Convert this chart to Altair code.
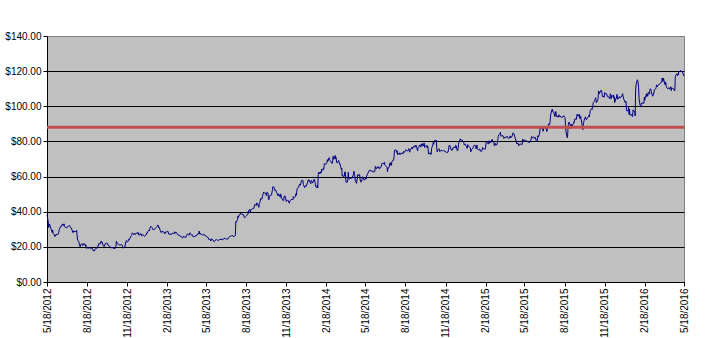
import altair as alt
import pandas as pd

# Daily closing prices, (month/day, price) per year
fb_2012 = [
    ("5/18", 38.23), ("5/21", 34.03), ("5/22", 31.00), ("5/23", 32.00), ("5/24", 33.03), ("5/25", 31.91),
    ("5/29", 28.84), ("5/30", 28.19), ("5/31", 29.60),
    ("6/1", 27.72), ("6/4", 26.90), ("6/5", 25.87), ("6/6", 26.81), ("6/7", 26.31), ("6/8", 27.10),
    ("6/11", 27.01), ("6/12", 27.40), ("6/13", 27.27), ("6/14", 28.29), ("6/15", 30.01), ("6/18", 31.41),
    ("6/19", 31.91), ("6/20", 31.60), ("6/21", 31.84), ("6/22", 33.05), ("6/25", 32.06), ("6/26", 33.10),
    ("6/27", 32.23), ("6/28", 31.36), ("6/29", 31.10),
    ("7/2", 30.77), ("7/3", 31.20), ("7/5", 31.47), ("7/6", 31.73), ("7/9", 32.17), ("7/10", 31.47),
    ("7/11", 30.97), ("7/12", 30.81), ("7/13", 30.72), ("7/16", 28.25), ("7/17", 28.09), ("7/18", 29.11),
    ("7/19", 28.76), ("7/20", 28.76), ("7/23", 28.75), ("7/24", 28.45), ("7/25", 29.34), ("7/26", 26.85),
    ("7/27", 23.71), ("7/30", 23.15), ("7/31", 21.71),
    ("8/1", 20.88), ("8/2", 20.04), ("8/3", 21.09), ("8/6", 21.92), ("8/7", 20.72), ("8/8", 20.72),
    ("8/9", 21.01), ("8/10", 21.81), ("8/13", 21.60), ("8/14", 20.38), ("8/15", 21.20), ("8/16", 19.87),
    ("8/17", 19.05), ("8/20", 20.01), ("8/21", 19.16), ("8/22", 19.44), ("8/23", 19.44), ("8/24", 19.41),
    ("8/27", 19.15), ("8/28", 19.34), ("8/29", 19.10), ("8/30", 19.09), ("8/31", 18.06),
    ("9/4", 17.73), ("9/5", 18.58), ("9/6", 18.96), ("9/7", 18.98), ("9/10", 19.43), ("9/11", 19.43),
    ("9/12", 20.93), ("9/13", 20.71), ("9/14", 22.00), ("9/17", 21.52), ("9/18", 21.87), ("9/19", 23.29),
    ("9/20", 22.59), ("9/21", 22.86), ("9/24", 20.79), ("9/25", 20.28), ("9/26", 20.62), ("9/27", 20.32),
    ("9/28", 21.66),
    ("10/1", 21.99), ("10/2", 22.27), ("10/3", 21.83), ("10/4", 21.95), ("10/5", 20.91), ("10/8", 20.40),
    ("10/9", 20.23), ("10/10", 19.64), ("10/11", 19.75), ("10/12", 19.52), ("10/15", 19.52), ("10/16", 19.48),
    ("10/17", 19.88), ("10/18", 18.98), ("10/19", 19.00), ("10/22", 19.32), ("10/23", 19.50), ("10/24", 23.23),
    ("10/25", 22.56), ("10/26", 21.94), ("10/31", 21.11),
    ("11/1", 21.21), ("11/2", 21.18), ("11/5", 21.25), ("11/6", 21.17), ("11/7", 20.47), ("11/8", 19.99),
    ("11/9", 19.21), ("11/12", 20.07), ("11/13", 19.86), ("11/14", 22.36), ("11/15", 22.17), ("11/16", 23.56),
    ("11/19", 22.92), ("11/20", 23.10), ("11/21", 24.32), ("11/23", 24.00), ("11/26", 25.94), ("11/27", 26.15),
    ("11/28", 26.36), ("11/29", 27.32), ("11/30", 28.00),
    ("12/3", 27.04), ("12/4", 27.46), ("12/5", 27.71), ("12/6", 26.97), ("12/7", 27.49), ("12/10", 27.84),
    ("12/11", 27.98), ("12/12", 27.58), ("12/13", 28.24), ("12/14", 26.81), ("12/17", 26.75), ("12/18", 27.71),
    ("12/19", 27.41), ("12/20", 27.36), ("12/21", 26.26), ("12/24", 26.93), ("12/26", 26.51), ("12/27", 26.05),
    ("12/28", 25.91), ("12/31", 26.62),
]

fb_2013 = [
    ("1/2", 28.00), ("1/3", 27.77), ("1/4", 28.76), ("1/7", 29.42), ("1/8", 29.06), ("1/9", 30.59),
    ("1/10", 31.30), ("1/11", 31.72), ("1/14", 30.95), ("1/15", 30.10), ("1/16", 29.85), ("1/17", 30.14),
    ("1/18", 29.66), ("1/22", 30.73), ("1/23", 30.82), ("1/24", 31.08), ("1/25", 31.54), ("1/28", 32.47),
    ("1/29", 30.79), ("1/30", 31.24), ("1/31", 30.98),
    ("2/1", 29.73), ("2/4", 28.11), ("2/5", 28.64), ("2/6", 29.05), ("2/7", 28.65), ("2/8", 28.55),
    ("2/11", 28.26), ("2/12", 27.37), ("2/13", 27.91), ("2/14", 28.50), ("2/15", 28.32), ("2/19", 28.93),
    ("2/20", 28.46), ("2/21", 27.28), ("2/22", 27.13), ("2/25", 27.27), ("2/26", 27.39), ("2/27", 26.87),
    ("2/28", 27.25),
    ("3/1", 27.78), ("3/4", 27.72), ("3/5", 27.52), ("3/6", 27.45), ("3/7", 28.58), ("3/8", 27.96),
    ("3/11", 28.14), ("3/12", 27.83), ("3/13", 27.08), ("3/14", 27.04), ("3/15", 26.65), ("3/18", 26.49),
    ("3/19", 26.55), ("3/20", 25.86), ("3/21", 25.74), ("3/22", 25.73), ("3/25", 25.13), ("3/26", 25.21),
    ("3/27", 26.09), ("3/28", 25.58),
    ("4/1", 25.53), ("4/2", 25.42), ("4/3", 26.25), ("4/4", 27.07), ("4/5", 27.39), ("4/8", 26.85),
    ("4/9", 26.59), ("4/10", 27.57), ("4/11", 28.02), ("4/12", 27.40), ("4/15", 26.52), ("4/16", 26.92),
    ("4/17", 26.63), ("4/18", 25.69), ("4/19", 25.73), ("4/22", 25.97), ("4/23", 25.98), ("4/24", 26.11),
    ("4/25", 26.14), ("4/26", 26.85), ("4/29", 26.98), ("4/30", 27.77),
    ("5/1", 27.43), ("5/2", 28.97), ("5/3", 27.31), ("5/6", 27.57), ("5/7", 26.89), ("5/8", 27.12),
    ("5/9", 27.04), ("5/10", 26.68), ("5/13", 26.82), ("5/14", 27.07), ("5/15", 26.60), ("5/16", 26.13),
    ("5/17", 26.25), ("5/20", 25.76), ("5/21", 25.66), ("5/22", 25.16), ("5/23", 25.06), ("5/24", 24.31),
    ("5/28", 24.10), ("5/29", 23.32), ("5/30", 24.55), ("5/31", 24.35),
    ("6/3", 23.85), ("6/4", 23.52), ("6/5", 22.90), ("6/6", 22.97), ("6/7", 23.29), ("6/10", 24.33),
    ("6/11", 24.03), ("6/12", 23.77), ("6/13", 23.73), ("6/14", 23.63), ("6/17", 24.02), ("6/18", 24.21),
    ("6/19", 24.31), ("6/20", 23.90), ("6/21", 24.53), ("6/24", 23.94), ("6/25", 24.25), ("6/26", 24.16),
    ("6/27", 24.66), ("6/28", 24.88),
    ("7/1", 24.81), ("7/2", 24.41), ("7/3", 24.52), ("7/5", 24.37), ("7/8", 24.71), ("7/9", 25.48),
    ("7/10", 25.80), ("7/11", 25.81), ("7/12", 25.91), ("7/15", 26.28), ("7/16", 26.32), ("7/17", 26.65),
    ("7/18", 26.18), ("7/19", 25.88), ("7/22", 26.05), ("7/23", 26.13), ("7/24", 26.51), ("7/25", 34.36),
    ("7/26", 34.01), ("7/29", 35.43), ("7/30", 37.63), ("7/31", 36.80),
    ("8/1", 37.49), ("8/2", 38.05), ("8/5", 39.19), ("8/6", 38.55), ("8/7", 38.87), ("8/8", 38.54),
    ("8/9", 38.50), ("8/12", 38.22), ("8/13", 37.02), ("8/14", 36.65), ("8/15", 36.56), ("8/16", 37.08),
    ("8/19", 37.81), ("8/20", 38.41), ("8/21", 38.32), ("8/22", 38.55), ("8/23", 40.55), ("8/26", 41.34),
    ("8/27", 39.64), ("8/28", 40.55), ("8/29", 41.28), ("8/30", 41.29),
    ("9/3", 41.87), ("9/4", 41.78), ("9/5", 42.66), ("9/6", 43.95), ("9/9", 44.04), ("9/10", 43.60),
    ("9/11", 45.04), ("9/12", 44.75), ("9/13", 44.31), ("9/16", 42.51), ("9/17", 45.07), ("9/18", 45.23),
    ("9/19", 45.98), ("9/20", 47.49), ("9/23", 47.19), ("9/24", 48.45), ("9/25", 49.46), ("9/26", 50.39),
    ("9/27", 51.24), ("9/30", 50.23),
    ("10/1", 50.42), ("10/2", 50.28), ("10/3", 49.18), ("10/4", 51.04), ("10/7", 50.52), ("10/8", 47.14),
    ("10/9", 46.77), ("10/10", 49.05), ("10/11", 49.11), ("10/14", 49.51), ("10/15", 49.50), ("10/16", 51.14),
    ("10/17", 52.21), ("10/18", 54.22), ("10/21", 53.85), ("10/22", 52.68), ("10/23", 51.90), ("10/24", 52.45),
    ("10/25", 51.95), ("10/28", 50.23), ("10/29", 49.40), ("10/30", 49.01), ("10/31", 50.21),
    ("11/1", 49.75), ("11/4", 48.22), ("11/5", 50.11), ("11/6", 49.12), ("11/7", 47.56), ("11/8", 47.53),
    ("11/11", 46.20), ("11/12", 46.61), ("11/13", 48.71), ("11/14", 48.99), ("11/15", 49.01), ("11/18", 45.83),
    ("11/19", 46.36), ("11/20", 46.43), ("11/21", 46.70), ("11/22", 46.23), ("11/25", 44.82), ("11/26", 45.89),
    ("11/27", 46.49), ("11/29", 47.01),
    ("12/2", 47.06), ("12/3", 46.73), ("12/4", 48.62), ("12/5", 48.34), ("12/6", 47.94), ("12/9", 48.84),
    ("12/10", 50.25), ("12/11", 49.38), ("12/12", 51.83), ("12/13", 53.32), ("12/16", 53.81), ("12/17", 54.86),
    ("12/18", 55.57), ("12/19", 55.05), ("12/20", 55.12), ("12/23", 57.77), ("12/24", 57.96), ("12/26", 57.73),
    ("12/27", 55.44), ("12/30", 53.71), ("12/31", 54.65),
]

fb_2014 = [
    ("1/2", 54.71), ("1/3", 54.56), ("1/6", 57.20), ("1/7", 57.92), ("1/8", 58.23), ("1/9", 57.22),
    ("1/10", 57.94), ("1/13", 55.91), ("1/14", 57.74), ("1/15", 57.60), ("1/16", 57.19), ("1/17", 56.30),
    ("1/21", 58.51), ("1/22", 57.51), ("1/23", 56.63), ("1/24", 54.45), ("1/27", 53.55), ("1/28", 55.14),
    ("1/29", 53.53), ("1/30", 61.08), ("1/31", 62.57),
    ("2/3", 61.48), ("2/4", 62.75), ("2/5", 62.19), ("2/6", 62.16), ("2/7", 64.32), ("2/10", 63.55),
    ("2/11", 64.85), ("2/12", 64.45), ("2/13", 67.33), ("2/14", 67.09), ("2/18", 67.30), ("2/19", 68.06),
    ("2/20", 69.63), ("2/21", 68.59), ("2/24", 70.78), ("2/25", 69.85), ("2/26", 69.26), ("2/27", 68.94),
    ("2/28", 68.46),
    ("3/3", 67.41), ("3/4", 68.80), ("3/5", 71.57), ("3/6", 70.84), ("3/7", 69.80), ("3/10", 72.03),
    ("3/11", 70.10), ("3/12", 70.88), ("3/13", 68.83), ("3/14", 67.72), ("3/17", 68.74), ("3/18", 69.19),
    ("3/19", 68.24), ("3/20", 66.97), ("3/21", 67.24), ("3/24", 64.10), ("3/25", 64.89), ("3/26", 60.39),
    ("3/27", 60.97), ("3/28", 60.01), ("3/31", 60.24),
    ("4/1", 62.62), ("4/2", 62.72), ("4/3", 59.49), ("4/4", 56.75), ("4/7", 56.95), ("4/8", 58.19),
    ("4/9", 62.41), ("4/10", 59.16), ("4/11", 58.53), ("4/14", 58.89), ("4/15", 59.09), ("4/16", 59.72),
    ("4/17", 58.94), ("4/21", 61.24), ("4/22", 63.03), ("4/23", 61.36), ("4/24", 60.87), ("4/25", 57.71),
    ("4/28", 56.14), ("4/29", 58.15), ("4/30", 59.78),
    ("5/1", 61.15), ("5/2", 60.46), ("5/5", 61.22), ("5/6", 58.53), ("5/7", 57.39), ("5/8", 56.76),
    ("5/9", 57.24), ("5/12", 59.83), ("5/13", 59.83), ("5/14", 59.23), ("5/15", 57.92), ("5/16", 58.02),
    ("5/19", 59.21), ("5/20", 58.56), ("5/21", 60.49), ("5/22", 60.52), ("5/23", 61.35), ("5/27", 63.48),
    ("5/28", 63.51), ("5/29", 63.83), ("5/30", 63.30),
    ("6/2", 63.08), ("6/3", 62.87), ("6/4", 63.34), ("6/5", 62.88), ("6/6", 62.50), ("6/9", 62.88),
    ("6/10", 65.77), ("6/11", 65.78), ("6/12", 64.29), ("6/13", 64.50), ("6/16", 65.60), ("6/17", 65.10),
    ("6/18", 65.60), ("6/19", 64.34), ("6/20", 64.50), ("6/23", 65.60), ("6/24", 65.72), ("6/25", 67.44),
    ("6/26", 67.58), ("6/27", 67.60), ("6/30", 67.29),
    ("7/1", 68.06), ("7/2", 66.45), ("7/3", 66.29), ("7/7", 65.29), ("7/8", 62.76), ("7/9", 64.97),
    ("7/10", 64.87), ("7/11", 64.97), ("7/14", 67.90), ("7/15", 66.47), ("7/16", 67.66), ("7/17", 66.41),
    ("7/18", 68.42), ("7/21", 69.40), ("7/22", 69.27), ("7/23", 71.29), ("7/24", 74.98), ("7/25", 75.19),
    ("7/28", 74.92), ("7/29", 73.71), ("7/30", 74.68), ("7/31", 72.65),
    ("8/1", 72.36), ("8/4", 73.51), ("8/5", 72.69), ("8/6", 72.47), ("8/7", 73.17), ("8/8", 73.06),
    ("8/11", 73.44), ("8/12", 72.83), ("8/13", 73.77), ("8/14", 74.30), ("8/15", 73.63), ("8/18", 74.59),
    ("8/19", 75.29), ("8/20", 74.81), ("8/21", 74.57), ("8/22", 74.57), ("8/25", 75.02), ("8/26", 75.96),
    ("8/27", 74.63), ("8/28", 73.86), ("8/29", 74.82),
    ("9/2", 76.68), ("9/3", 75.83), ("9/4", 75.95), ("9/5", 77.03), ("9/8", 77.43), ("9/9", 76.67),
    ("9/10", 77.43), ("9/11", 77.92), ("9/12", 77.48), ("9/15", 74.58), ("9/16", 76.08), ("9/17", 76.43),
    ("9/18", 77.00), ("9/19", 77.91), ("9/22", 76.80), ("9/23", 78.29), ("9/24", 78.54), ("9/25", 77.22),
    ("9/26", 78.79), ("9/29", 77.44), ("9/30", 79.04),
    ("10/1", 76.55), ("10/2", 77.08), ("10/3", 77.44), ("10/6", 77.56), ("10/7", 76.29), ("10/8", 77.52),
    ("10/9", 75.91), ("10/10", 72.91), ("10/13", 73.23), ("10/14", 73.59), ("10/15", 72.63), ("10/16", 72.64),
    ("10/17", 75.95), ("10/20", 78.07), ("10/21", 79.60), ("10/22", 78.37), ("10/23", 80.04), ("10/24", 80.67),
    ("10/27", 80.28), ("10/28", 80.77), ("10/29", 75.86), ("10/30", 74.11), ("10/31", 74.99),
    ("11/3", 75.88), ("11/4", 75.01), ("11/5", 74.14), ("11/6", 74.61), ("11/7", 74.88), ("11/10", 74.90),
    ("11/11", 74.61), ("11/12", 74.60), ("11/13", 74.72), ("11/14", 74.88), ("11/17", 74.24), ("11/18", 74.34),
    ("11/19", 74.01), ("11/20", 73.60), ("11/21", 73.75), ("11/24", 74.01), ("11/25", 75.63), ("11/26", 77.62),
    ("11/28", 77.70),
    ("12/1", 75.10), ("12/2", 75.46), ("12/3", 74.88), ("12/4", 75.24), ("12/5", 76.36), ("12/8", 76.52),
    ("12/9", 76.84), ("12/10", 76.18), ("12/11", 77.73), ("12/12", 77.83), ("12/15", 74.69), ("12/16", 74.69),
    ("12/17", 76.11), ("12/18", 78.40), ("12/19", 79.88), ("12/22", 81.45), ("12/23", 80.61), ("12/24", 80.77),
    ("12/26", 80.78), ("12/29", 80.02), ("12/30", 79.22), ("12/31", 78.02),
]

fb_2015 = [
    ("1/2", 78.45), ("1/5", 77.19), ("1/6", 76.15), ("1/7", 76.15), ("1/8", 78.18), ("1/9", 77.74),
    ("1/12", 76.72), ("1/13", 76.45), ("1/14", 76.28), ("1/15", 74.05), ("1/16", 75.18), ("1/20", 76.24),
    ("1/21", 76.74), ("1/22", 77.65), ("1/23", 77.83), ("1/26", 77.50), ("1/27", 75.78), ("1/28", 76.24),
    ("1/29", 78.00), ("1/30", 75.91),
    ("2/2", 74.99), ("2/3", 75.40), ("2/4", 75.63), ("2/5", 75.62), ("2/6", 74.47), ("2/9", 74.44),
    ("2/10", 75.19), ("2/11", 76.51), ("2/12", 76.23), ("2/13", 75.74), ("2/17", 75.60), ("2/18", 76.71),
    ("2/19", 79.42), ("2/20", 79.90), ("2/23", 78.84), ("2/24", 78.45), ("2/25", 79.56), ("2/26", 80.41),
    ("2/27", 78.97),
    ("3/2", 79.75), ("3/3", 79.60), ("3/4", 80.90), ("3/5", 81.21), ("3/6", 80.01), ("3/9", 79.44),
    ("3/10", 77.55), ("3/11", 77.57), ("3/12", 78.93), ("3/13", 78.05), ("3/16", 78.07), ("3/17", 79.36),
    ("3/18", 80.91), ("3/19", 82.75), ("3/20", 83.80), ("3/23", 84.43), ("3/24", 85.31), ("3/25", 82.92),
    ("3/26", 83.01), ("3/27", 83.30), ("3/30", 83.20), ("3/31", 82.22),
    ("4/1", 81.67), ("4/2", 82.32), ("4/6", 82.28), ("4/7", 82.65), ("4/8", 83.02), ("4/9", 82.42),
    ("4/10", 82.04), ("4/13", 81.72), ("4/14", 81.90), ("4/15", 83.10), ("4/16", 82.97), ("4/17", 82.04),
    ("4/20", 83.09), ("4/21", 84.26), ("4/22", 84.93), ("4/23", 84.63), ("4/24", 84.42), ("4/27", 81.91),
    ("4/28", 80.68), ("4/29", 80.68), ("4/30", 78.77),
    ("5/1", 78.77), ("5/4", 78.81), ("5/5", 77.46), ("5/6", 78.10), ("5/7", 78.43), ("5/8", 78.46),
    ("5/11", 78.53), ("5/12", 78.13), ("5/13", 78.44), ("5/14", 81.37), ("5/15", 80.41), ("5/18", 80.88),
    ("5/19", 80.47), ("5/20", 80.55), ("5/21", 80.53), ("5/22", 80.54), ("5/26", 79.70), ("5/27", 79.73),
    ("5/28", 79.49), ("5/29", 79.19),
    ("6/1", 80.59), ("6/2", 80.60), ("6/3", 82.44), ("6/4", 82.81), ("6/5", 82.05), ("6/8", 82.40),
    ("6/9", 82.30), ("6/10", 81.72), ("6/11", 82.35), ("6/12", 82.21), ("6/15", 79.76), ("6/16", 80.13),
    ("6/17", 81.38), ("6/18", 83.25), ("6/19", 82.51), ("6/22", 84.73), ("6/23", 88.00), ("6/24", 87.36),
    ("6/25", 87.21), ("6/26", 88.20), ("6/29", 86.62), ("6/30", 85.77),
    ("7/1", 87.88), ("7/2", 87.95), ("7/6", 87.55), ("7/7", 87.22), ("7/8", 85.65), ("7/9", 85.88),
    ("7/10", 87.95), ("7/13", 90.10), ("7/14", 89.68), ("7/15", 89.61), ("7/16", 91.32), ("7/17", 94.97),
    ("7/20", 97.91), ("7/21", 98.39), ("7/22", 96.95), ("7/23", 97.04), ("7/24", 96.95), ("7/27", 94.17),
    ("7/28", 95.29), ("7/29", 96.99), ("7/30", 95.21), ("7/31", 94.01),
    ("8/3", 94.14), ("8/4", 93.80), ("8/5", 95.21), ("8/6", 94.21), ("8/7", 94.30), ("8/10", 94.15),
    ("8/11", 93.62), ("8/12", 93.49), ("8/13", 94.14), ("8/14", 94.02), ("8/17", 94.62), ("8/18", 94.14),
    ("8/19", 93.49), ("8/20", 90.56), ("8/21", 86.06), ("8/24", 82.09), ("8/25", 83.00), ("8/26", 87.63),
    ("8/27", 89.73), ("8/28", 91.01), ("8/31", 89.43),
    ("9/1", 87.23), ("9/2", 89.89), ("9/3", 88.26), ("9/4", 88.26), ("9/8", 90.77), ("9/9", 90.54),
    ("9/10", 92.31), ("9/11", 92.90), ("9/14", 92.49), ("9/15", 94.40), ("9/16", 95.55), ("9/17", 95.18),
    ("9/18", 94.31), ("9/21", 95.55), ("9/22", 92.96), ("9/23", 93.97), ("9/24", 94.41), ("9/25", 92.77),
    ("9/28", 88.36), ("9/29", 86.67), ("9/30", 89.90),
    ("10/1", 90.95), ("10/2", 92.07), ("10/5", 94.01), ("10/6", 92.80), ("10/7", 92.40), ("10/8", 92.47),
    ("10/9", 93.24), ("10/12", 94.19), ("10/13", 94.99), ("10/14", 94.01), ("10/15", 95.97), ("10/16", 97.54),
    ("10/19", 98.68), ("10/20", 98.14), ("10/21", 98.76), ("10/22", 100.27), ("10/23", 102.19), ("10/26", 103.04),
    ("10/27", 103.70), ("10/28", 104.88), ("10/29", 103.96), ("10/30", 101.97),
    ("11/2", 103.31), ("11/3", 104.67), ("11/4", 108.76), ("11/5", 108.08), ("11/6", 107.10), ("11/9", 109.08),
    ("11/10", 108.92), ("11/11", 108.90), ("11/12", 107.32), ("11/13", 105.50), ("11/16", 105.49), ("11/17", 105.13),
    ("11/18", 107.78), ("11/19", 106.88), ("11/20", 107.32), ("11/23", 106.94), ("11/24", 105.74), ("11/25", 105.41),
    ("11/27", 105.45), ("11/30", 104.24),
    ("12/1", 107.12), ("12/2", 106.07), ("12/3", 104.38), ("12/4", 106.18), ("12/7", 105.61), ("12/8", 106.49),
    ("12/9", 104.60), ("12/10", 105.42), ("12/11", 102.12), ("12/14", 104.66), ("12/15", 104.55), ("12/16", 106.79),
    ("12/17", 106.22), ("12/18", 104.04), ("12/21", 104.77), ("12/22", 105.51), ("12/23", 104.63), ("12/24", 105.02),
    ("12/28", 105.93), ("12/29", 107.26), ("12/30", 106.22), ("12/31", 104.66),
]

fb_2016 = [
    ("1/4", 102.22), ("1/5", 102.73), ("1/6", 102.97), ("1/7", 97.92), ("1/8", 97.33), ("1/11", 97.51),
    ("1/12", 99.37), ("1/13", 95.44), ("1/14", 98.37), ("1/15", 94.97), ("1/19", 95.26), ("1/20", 94.35),
    ("1/21", 94.16), ("1/22", 97.94), ("1/25", 97.01), ("1/26", 97.34), ("1/27", 94.45), ("1/28", 109.11),
    ("1/29", 112.21),
    ("2/1", 115.09), ("2/2", 114.61), ("2/3", 112.69), ("2/4", 110.49), ("2/5", 104.07), ("2/8", 99.75),
    ("2/9", 99.54), ("2/10", 101.00), ("2/11", 101.91), ("2/12", 102.01), ("2/16", 101.61), ("2/17", 105.20),
    ("2/18", 103.47), ("2/19", 104.57), ("2/22", 107.16), ("2/23", 105.46), ("2/24", 106.88), ("2/25", 105.94),
    ("2/26", 107.92), ("2/29", 106.92),
    ("3/1", 109.82), ("3/2", 109.95), ("3/3", 109.58), ("3/4", 108.39), ("3/7", 105.73), ("3/8", 105.93),
    ("3/9", 107.51), ("3/10", 107.32), ("3/11", 109.41), ("3/14", 109.89), ("3/15", 110.67), ("3/16", 112.18),
    ("3/17", 111.02), ("3/18", 111.45), ("3/21", 112.42), ("3/22", 112.26), ("3/23", 112.54), ("3/24", 113.05),
    ("3/28", 113.69), ("3/29", 116.14), ("3/30", 114.70), ("3/31", 114.10),
    ("4/1", 116.06), ("4/4", 112.55), ("4/5", 112.22), ("4/6", 113.71), ("4/7", 111.91), ("4/8", 110.63),
    ("4/11", 109.96), ("4/12", 110.51), ("4/13", 110.51), ("4/14", 110.56), ("4/15", 109.64), ("4/18", 111.12),
    ("4/19", 108.89), ("4/20", 110.45), ("4/21", 110.44), ("4/22", 110.10), ("4/25", 109.74), ("4/26", 108.89),
    ("4/27", 108.89), ("4/28", 116.73), ("4/29", 117.58),
    ("5/2", 118.57), ("5/3", 117.43), ("5/4", 118.06), ("5/5", 117.81), ("5/6", 119.81), ("5/9", 119.67),
    ("5/10", 120.50), ("5/11", 119.52), ("5/12", 119.81), ("5/13", 119.81), ("5/16", 118.67), ("5/17", 117.35),
    ("5/18", 117.65),
]

tick_labels = [
    "5/18/2012", "8/18/2012", "11/18/2012", "2/18/2013", "5/18/2013", "8/18/2013",
    "11/18/2013", "2/18/2014", "5/18/2014", "8/18/2014", "11/18/2014", "2/18/2015",
    "5/18/2015", "8/18/2015", "11/18/2015", "2/18/2016", "5/18/2016",
]
y_ticks = [0, 20, 40, 60, 80, 100, 120, 140]
reference_level = 88.0

rows = []
for year, pairs in ((2012, fb_2012), (2013, fb_2013), (2014, fb_2014), (2015, fb_2015), (2016, fb_2016)):
    for md, price in pairs:
        m, d = md.split("/")
        rows.append({"date": f"{year}-{int(m):02d}-{int(d):02d}T00:00:00", "price": price})
prices = pd.DataFrame(rows)
level = pd.DataFrame({"price": [reference_level]})


def to_dt(label):
    m, d, y = (int(p) for p in label.split("/"))
    return alt.DateTime(year=y, month=m, date=d)


tick_values = [to_dt(t) for t in tick_labels]

FONT = "Liberation Sans"

x_enc = alt.X(
    "date:T",
    scale=alt.Scale(domain=[tick_values[0], tick_values[-1]], nice=False, padding=0),
    axis=alt.Axis(
        values=tick_values, format="%-m/%-d/%Y", labelAngle=270, title=None, grid=False,
        tickSize=4, tickColor="black", domainColor="black", labelPadding=2,
        labelColor="black", labelFont=FONT, labelFontSize=10, labelOverlap=False,
        labelFlush=False, labelBound=False,
    ),
)

y_scale = alt.Scale(domain=[0, 140], nice=False, zero=True)
y_axis = alt.Axis(
    values=y_ticks, format="$.2f", title=None, grid=True,
    gridColor={"condition": {"test": "datum.value >= 140", "value": "#808080"}, "value": "black"},
    gridWidth=1, gridOpacity=1, tickSize=4, tickColor="black", domainColor="black",
    labelPadding=2, labelColor="black", labelFont=FONT, labelFontSize=10, labelFlush=False,
)

line = alt.Chart(prices).mark_line(color="#000080", strokeWidth=1).encode(
    x=x_enc,
    y=alt.Y("price:Q", scale=y_scale, axis=y_axis),
)

rule = alt.Chart(level).mark_rule(color="#C0504D", strokeWidth=3).encode(
    y=alt.Y("price:Q", scale=y_scale, axis=y_axis),
)

chart = (
    alt.layer(line, rule)
    .properties(
        width=637, height=246, autosize="none",
        padding={"left": 47, "top": 36, "right": 32, "bottom": 56},
        background="white",
    )
    .configure_view(fill="#C0C0C0", stroke="#808080", strokeWidth=1)
)

chart.save("out.html", embed_options={"renderer": "svg", "actions": False})
